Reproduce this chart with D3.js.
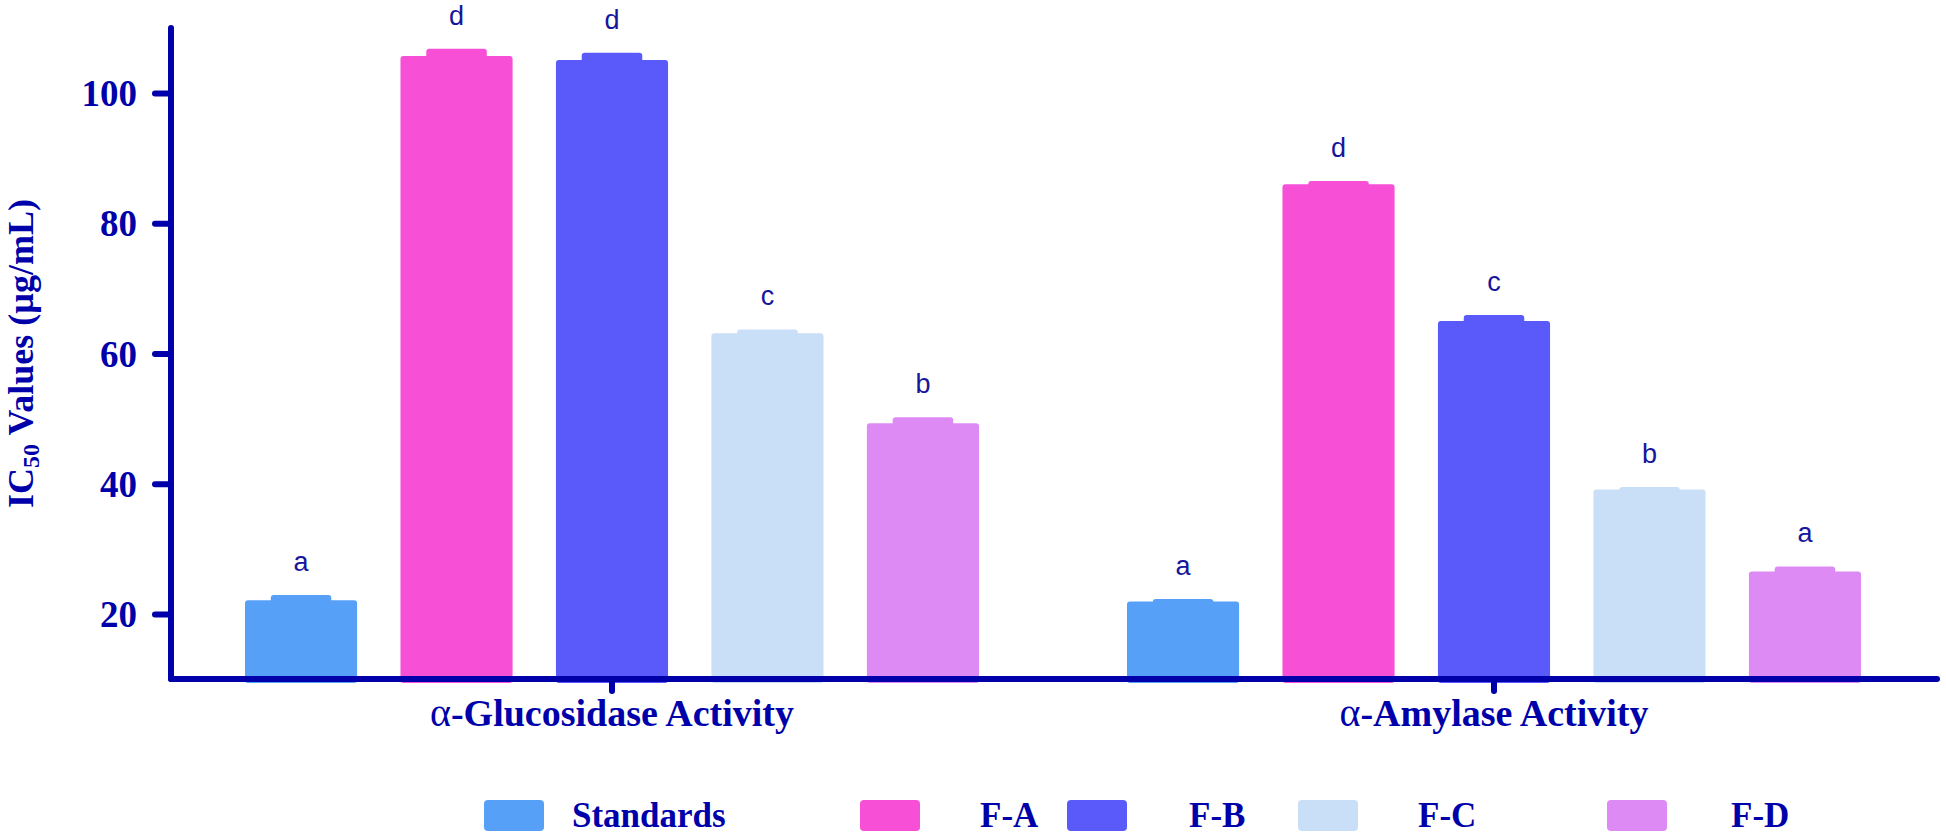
<!DOCTYPE html>
<html>
<head>
<meta charset="utf-8">
<script src="https://cdn.jsdelivr.net/npm/d3@7"></script>
<style>
  html, body { margin: 0; padding: 0; background: #ffffff; }
  svg { display: block; }
</style>
</head>
<body>
<svg id="chart" width="1946" height="837"></svg>
<script>
// ---- data ----
const groups = ["Glucosidase Activity", "Amylase Activity"];
const seriesNames = ["Standards", "F-A", "F-B", "F-C", "F-D"];
const glucosidaseValues = [22.1, 105.7, 105.1, 63.1, 49.3];
const amylaseValues = [21.9, 86.0, 65.0, 39.1, 26.5];
const glucosidaseErrors = [0.8, 1.1, 1.1, 0.6, 0.9];
const amylaseErrors = [0.4, 0.5, 0.9, 0.4, 0.8];
const glucosidaseLetters = ["a", "d", "d", "c", "b"];
const amylaseLetters = ["a", "d", "c", "b", "a"];
const yTicks = [20, 40, 60, 80, 100];
const seriesColors = ["#56a0f8", "#f74fd6", "#5a5afa", "#c9def7", "#de8af5"];

const valuesByGroup = [glucosidaseValues, amylaseValues];
const errorsByGroup = [glucosidaseErrors, amylaseErrors];
const lettersByGroup = [glucosidaseLetters, amylaseLetters];

// ---- layout ----
const axisColor = "#0000aa";
const letterColor = "#16169c";
const serif = "'Liberation Serif', 'Times New Roman', serif";
const sans = "'Liberation Sans', Arial, sans-serif";

const svg = d3.select("#chart");

const y = d3.scaleLinear().domain([10, 110]).range([679, 28]);
const x0 = d3.scaleBand().domain(groups).range([171, 1935]).padding(0);
const x1 = d3.scaleBand().domain(seriesNames).range([0, x0.bandwidth()])
  .paddingInner(0.279).paddingOuter(0.476);
const color = d3.scaleOrdinal().domain(seriesNames).range(seriesColors);

const rows = [];
groups.forEach((g, gi) => {
  seriesNames.forEach((s, si) => {
    rows.push({ group: g, series: s, value: valuesByGroup[gi][si],
      err: errorsByGroup[gi][si], letter: lettersByGroup[gi][si] });
  });
});

// bars
const bw = x1.bandwidth();
const barG = svg.append("g");
barG.selectAll("rect.bar").data(rows).join("rect")
  .attr("class", "bar")
  .attr("x", d => x0(d.group) + x1(d.series))
  .attr("y", d => y(d.value))
  .attr("width", bw)
  .attr("height", d => y(10) - y(d.value) + 4)
  .attr("rx", 3)
  .attr("fill", d => color(d.series));

// error caps (drawn in bar colour, as in the reference)
const capW = bw * 0.54;
barG.selectAll("rect.cap").data(rows).join("rect")
  .attr("class", "cap")
  .attr("x", d => x0(d.group) + x1(d.series) + (bw - capW) / 2)
  .attr("y", d => y(d.value + d.err))
  .attr("width", capW)
  .attr("height", d => y(d.value) - y(d.value + d.err) + 4)
  .attr("rx", 3)
  .attr("fill", d => color(d.series));

// significance letters
svg.append("g").selectAll("text").data(rows).join("text")
  .attr("x", d => x0(d.group) + x1(d.series) + bw / 2)
  .attr("y", d => y(d.value + d.err) - 24)
  .attr("text-anchor", "middle")
  .attr("font-family", sans)
  .attr("font-size", 27)
  .attr("fill", letterColor)
  .text(d => d.letter);

// y axis
const yAxis = d3.axisLeft(y).tickValues(yTicks).tickSize(16).tickPadding(18);
const yg = svg.append("g").attr("transform", "translate(171,0)").call(yAxis);
yg.select(".domain").remove();
yg.selectAll(".tick line").attr("stroke", axisColor).attr("stroke-width", 6)
  .attr("stroke-linecap", "round");
yg.selectAll(".tick text").attr("fill", axisColor).attr("font-family", serif)
  .attr("font-weight", "bold").attr("font-size", 37).attr("dy", "0.34em");
yg.append("line").attr("x1", 0).attr("x2", 0).attr("y1", y(110)).attr("y2", y(10))
  .attr("stroke", axisColor).attr("stroke-width", 6).attr("stroke-linecap", "round");

// x axis
const xAxis = d3.axisBottom(x0).tickSize(12).tickFormat("");
const xg = svg.append("g").attr("transform", `translate(0,${y(10)})`).call(xAxis);
xg.select(".domain").remove();
xg.selectAll(".tick line").attr("stroke", axisColor).attr("stroke-width", 6)
  .attr("stroke-linecap", "round");
xg.selectAll(".tick text").remove();
xg.append("line").attr("x1", 171).attr("x2", 1937).attr("y1", 0).attr("y2", 0)
  .attr("stroke", axisColor).attr("stroke-width", 6).attr("stroke-linecap", "round");

// x category labels (alpha in a plain symbol style, rest bold)
const xl = xg.selectAll("g.xlabel").data(groups).join("g")
  .attr("class", "xlabel")
  .append("text")
  .attr("x", d => x0(d) + x0.bandwidth() / 2)
  .attr("y", 47)
  .attr("text-anchor", "middle")
  .attr("font-family", serif).attr("font-size", 38).attr("fill", axisColor);
xl.append("tspan").attr("font-weight", "normal").attr("font-size", 40).text("\u03B1");
xl.append("tspan").attr("font-weight", "bold").text(d => "-" + d);

// y title
const yt = svg.append("text")
  .attr("transform", `translate(33,${(y(10) + y(110)) / 2}) rotate(-90)`)
  .attr("text-anchor", "middle")
  .attr("font-family", serif).attr("font-weight", "bold").attr("font-size", 36)
  .attr("fill", axisColor);
yt.append("tspan").text("IC");
yt.append("tspan").attr("font-size", 24).attr("dy", 6).text("50");
yt.append("tspan").attr("dy", -6).text(" Values (\u00B5g/mL)");

// legend
const legendSwatchX = [484, 860, 1067, 1298, 1607];
const legendTextX = [572, 980, 1189, 1418, 1731];
const legend = svg.append("g").selectAll("g").data(seriesNames).join("g");
legend.append("rect")
  .attr("x", (d, i) => legendSwatchX[i]).attr("y", 800)
  .attr("width", 60).attr("height", 31).attr("rx", 4)
  .attr("fill", d => color(d));
legend.append("text")
  .attr("x", (d, i) => legendTextX[i]).attr("y", 827)
  .attr("font-family", serif).attr("font-weight", "bold").attr("font-size", 35)
  .attr("fill", axisColor).text(d => d);
</script>
</body>
</html>
